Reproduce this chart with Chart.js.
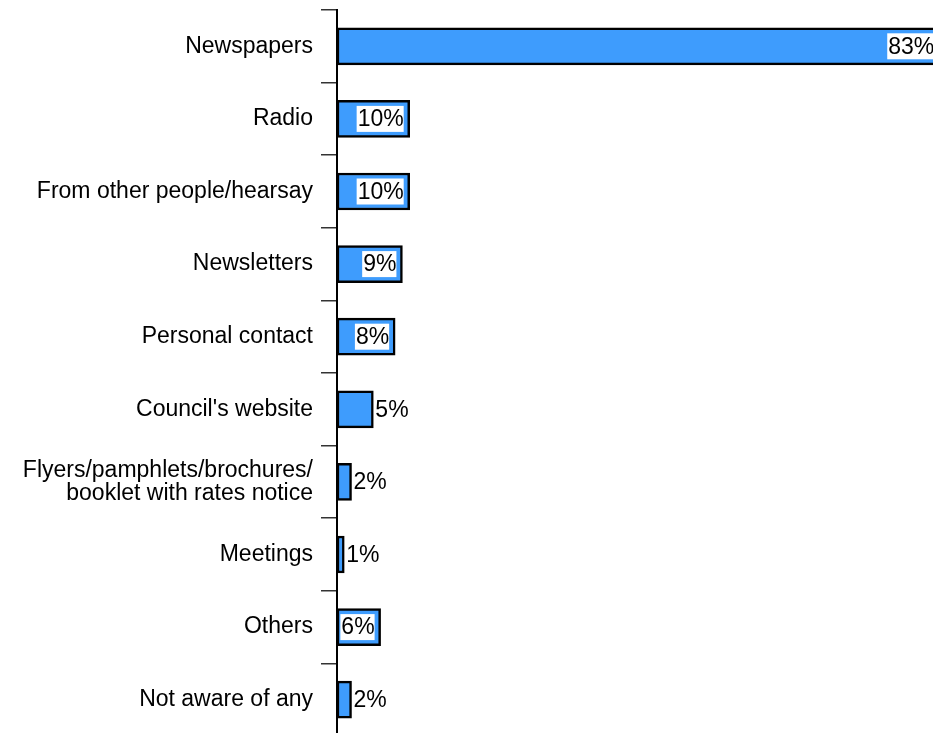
<!DOCTYPE html>
<html>
<head>
<meta charset="utf-8">
<title>Sources of information</title>
<script src="https://cdn.jsdelivr.net/npm/chart.js@4/dist/chart.umd.min.js"></script>
<style>
  html, body { margin: 0; padding: 0; background: #fff; overflow: hidden; }
  #chart { display: block; }
</style>
</head>
<body>
<canvas id="chart" width="933" height="736"></canvas>
<script>
const categories = [
    'Newspapers',
    'Radio',
    'From other people/hearsay',
    'Newsletters',
    'Personal contact',
    "Council's website",
    ['Flyers/pamphlets/brochures/', 'booklet with rates notice'],
    'Meetings',
    'Others',
    'Not aware of any'
];
const shares = [83, 10, 10, 9, 8, 5, 2, 1, 6, 2];
const shareLabels = shares.map(v => v + '%');

const FONT = '"Liberation Sans", Arial, Helvetica, sans-serif';

// value labels: inside the bar on a white box when they fit, otherwise just past the end
const valueLabels = {
    id: 'valueLabels',
    afterDatasetsDraw(chart) {
        const ctx = chart.ctx;
        const meta = chart.getDatasetMeta(0);
        ctx.save();
        ctx.font = '23px ' + FONT;
        ctx.textBaseline = 'middle';
        meta.data.forEach((bar, i) => {
            const text = shareLabels[i];
            const w = ctx.measureText(text).width;
            const barLen = bar.x - bar.base;
            if (w + 8 <= barLen) {
                const right = bar.x - 6;
                ctx.fillStyle = '#fff';
                ctx.fillRect(right - w - 1, bar.y - 13, w + 1, 26);
                ctx.fillStyle = '#000';
                ctx.textAlign = 'right';
                ctx.fillText(text, right, bar.y + 1);
            } else {
                ctx.fillStyle = '#000';
                ctx.textAlign = 'left';
                ctx.fillText(text, bar.x + 2, bar.y + 1);
            }
        });
        ctx.restore();
    }
};

new Chart(document.getElementById('chart'), {
    type: 'bar',
    data: {
        labels: categories,
        datasets: [{
            data: shares,
            backgroundColor: '#3e9cfd',
            borderColor: '#000',
            borderWidth: 2.5,
            borderSkipped: false,
            barThickness: 37
        }]
    },
    options: {
        indexAxis: 'y',
        responsive: false,
        devicePixelRatio: 1,
        animation: false,
        layout: { padding: { top: 10, right: 0, bottom: 0, left: 0 } },
        plugins: {
            legend: { display: false },
            tooltip: { enabled: false }
        },
        scales: {
            // the top bar runs slightly past the right edge
            x: { display: false, min: 0, max: 82 },
            y: {
                grid: {
                    offset: true,
                    drawOnChartArea: false,
                    tickLength: 16,
                    color: '#333',
                    lineWidth: 1.5
                },
                border: { color: '#000', width: 2 },
                ticks: {
                    color: '#000',
                    padding: 8,
                    font: { family: FONT, size: 23, lineHeight: 1.02 }
                },
                afterFit(scale) {
                    scale.width = 337;
                    scale.paddingTop = 0;
                    scale.paddingBottom = 0;
                }
            }
        }
    },
    plugins: [valueLabels]
});
</script>
</body>
</html>
